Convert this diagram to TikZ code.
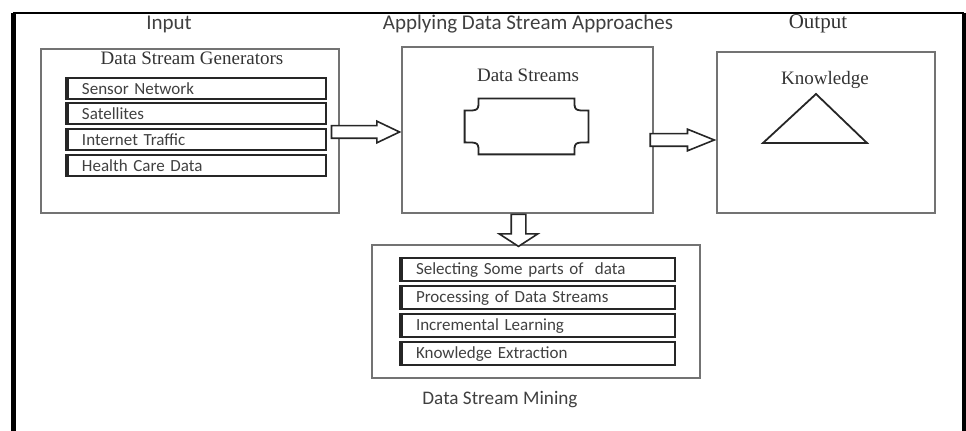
\documentclass[tikz,border=0pt]{standalone}
\usepackage{fontspec}
\setmainfont{Liberation Serif}
\newfontfamily\labelfont{Carlito}
\usepackage{tikz}
\usetikzlibrary{shapes.arrows}
\usetikzlibrary{calc}
\tikzset{
    panel/.style = {draw=black!55, line width=0.6pt, inner sep=0pt},
    itembox/.style = {draw=black!85, line width=1pt, inner xsep=7pt, inner ysep=0pt, align=left, text=black!75, font=\labelfont\fontsize{8.5}{10}\selectfont,
        append after command={(\tikzlastnode.north west) edge[draw=black!85, line width=1.8pt] (\tikzlastnode.south west)}},
    heading/.style = {text=black!75, font=\labelfont\fontsize{10.5}{12}\selectfont},
    title/.style = {text=black!80, font=\fontsize{9.5}{11}\selectfont},
    blockarrow/.style = {single arrow, draw=black!85, line width=0.8pt, fill=white, single arrow head indent=0pt},
}

\begin{document}
\begin{tikzpicture}[x=0.5pt, y=-0.5pt]
\tikzset{
    genitem/.style = {itembox, minimum height=10.5pt, text width=115pt},
    mineitem/.style = {itembox, minimum height=11.5pt, text width=122.5pt},
    outline/.style = {draw=black!85, line width=0.9pt}
}
\useasboundingbox (0,0) rectangle (966,431);
% frame
\draw[line width=2.5pt] (13,13) -- (13,445);
\draw[line width=1.4pt] (13,13) -- (964,13);
\draw[line width=2.5pt] (964,13) -- (964,445);
%
\node[heading] at (169,24) (input) {Input};
\node[heading] at (528,24) (apply) {Applying Data Stream Approaches};
\node[title, font=\fontsize{10.5}{12}\selectfont] at (818,24) (output) {Output};
%
\node[panel, minimum width=149pt, minimum height=82pt] at (190,131) (gen) {};
\node[title] at (192,58) (gentitle) {Data Stream Generators};
\node[genitem] at (197,89) (g1) {Sensor Network};
\node[genitem] at (197,114) (g2) {Satellites};
\node[genitem] at (197,140) (g3) {Internet Traffic};
\node[genitem] at (197,166) (g4) {Health Care Data};
%
\node[panel, minimum width=125.5pt, minimum height=83pt] at (527.5,130) (ds) {};
\node[title] at (528,75) (dstitle) {Data Streams};
\node[minimum width=61.5pt, minimum height=27.5pt, inner sep=0pt] at (526.5,126.5) (ring) {};
\draw[outline] ($(ring.north west)+(14,0)$) -- ($(ring.north east)+(-14,0)$)
    .. controls ($(ring.north east)+(-14,12)$) .. ($(ring.north east)+(0,12)$)
    -- ($(ring.south east)+(0,-12)$)
    .. controls ($(ring.south east)+(-14,-12)$) .. ($(ring.south east)+(-14,0)$)
    -- ($(ring.south west)+(14,0)$)
    .. controls ($(ring.south west)+(14,-12)$) .. ($(ring.south west)+(0,-12)$)
    -- ($(ring.north west)+(0,12)$)
    .. controls ($(ring.north west)+(14,12)$) .. cycle;
%
\node[panel, minimum width=109pt, minimum height=80.5pt] at (826,132.5) (out) {};
\node[title] at (825,80) (know) {Knowledge};
\draw[outline] (816,94) -- (867,143) -- (763,143) -- cycle;
%
\node[panel, minimum width=164pt, minimum height=66.5pt] at (536,311.5) (mine) {};
\node[mineitem] at (538.5,270) (m1) {Selecting Some parts of \ data};
\node[mineitem] at (538.5,298) (m2) {Processing of Data Streams};
\node[mineitem] at (538.5,326) (m3) {Incremental Learning};
\node[mineitem] at (538.5,354) (m4) {Knowledge Extraction};
\node[heading, font=\labelfont\fontsize{9.6}{11}\selectfont] at (500,400) (mining) {Data Stream Mining};
%
\node[blockarrow, inner sep=2.75pt, minimum height=34pt, minimum width=10pt, single arrow head extend=2.25pt, single arrow tip angle=51, anchor=tip] at ($(ds.west)+(0,2)$) (a1) {};
\node[blockarrow, inner sep=2.75pt, minimum height=32pt, minimum width=10pt, single arrow head extend=2.25pt, single arrow tip angle=44, anchor=tip] at ($(out.west)+(0,7.5)$) (a2) {};
\node[blockarrow, inner sep=3.25pt, minimum height=16pt, minimum width=18.5pt, single arrow head extend=6pt, single arrow tip angle=114, shape border rotate=270, anchor=tail] at ($(ds.south)+(-9,0)$) (a3) {};
\end{tikzpicture}
\end{document}
